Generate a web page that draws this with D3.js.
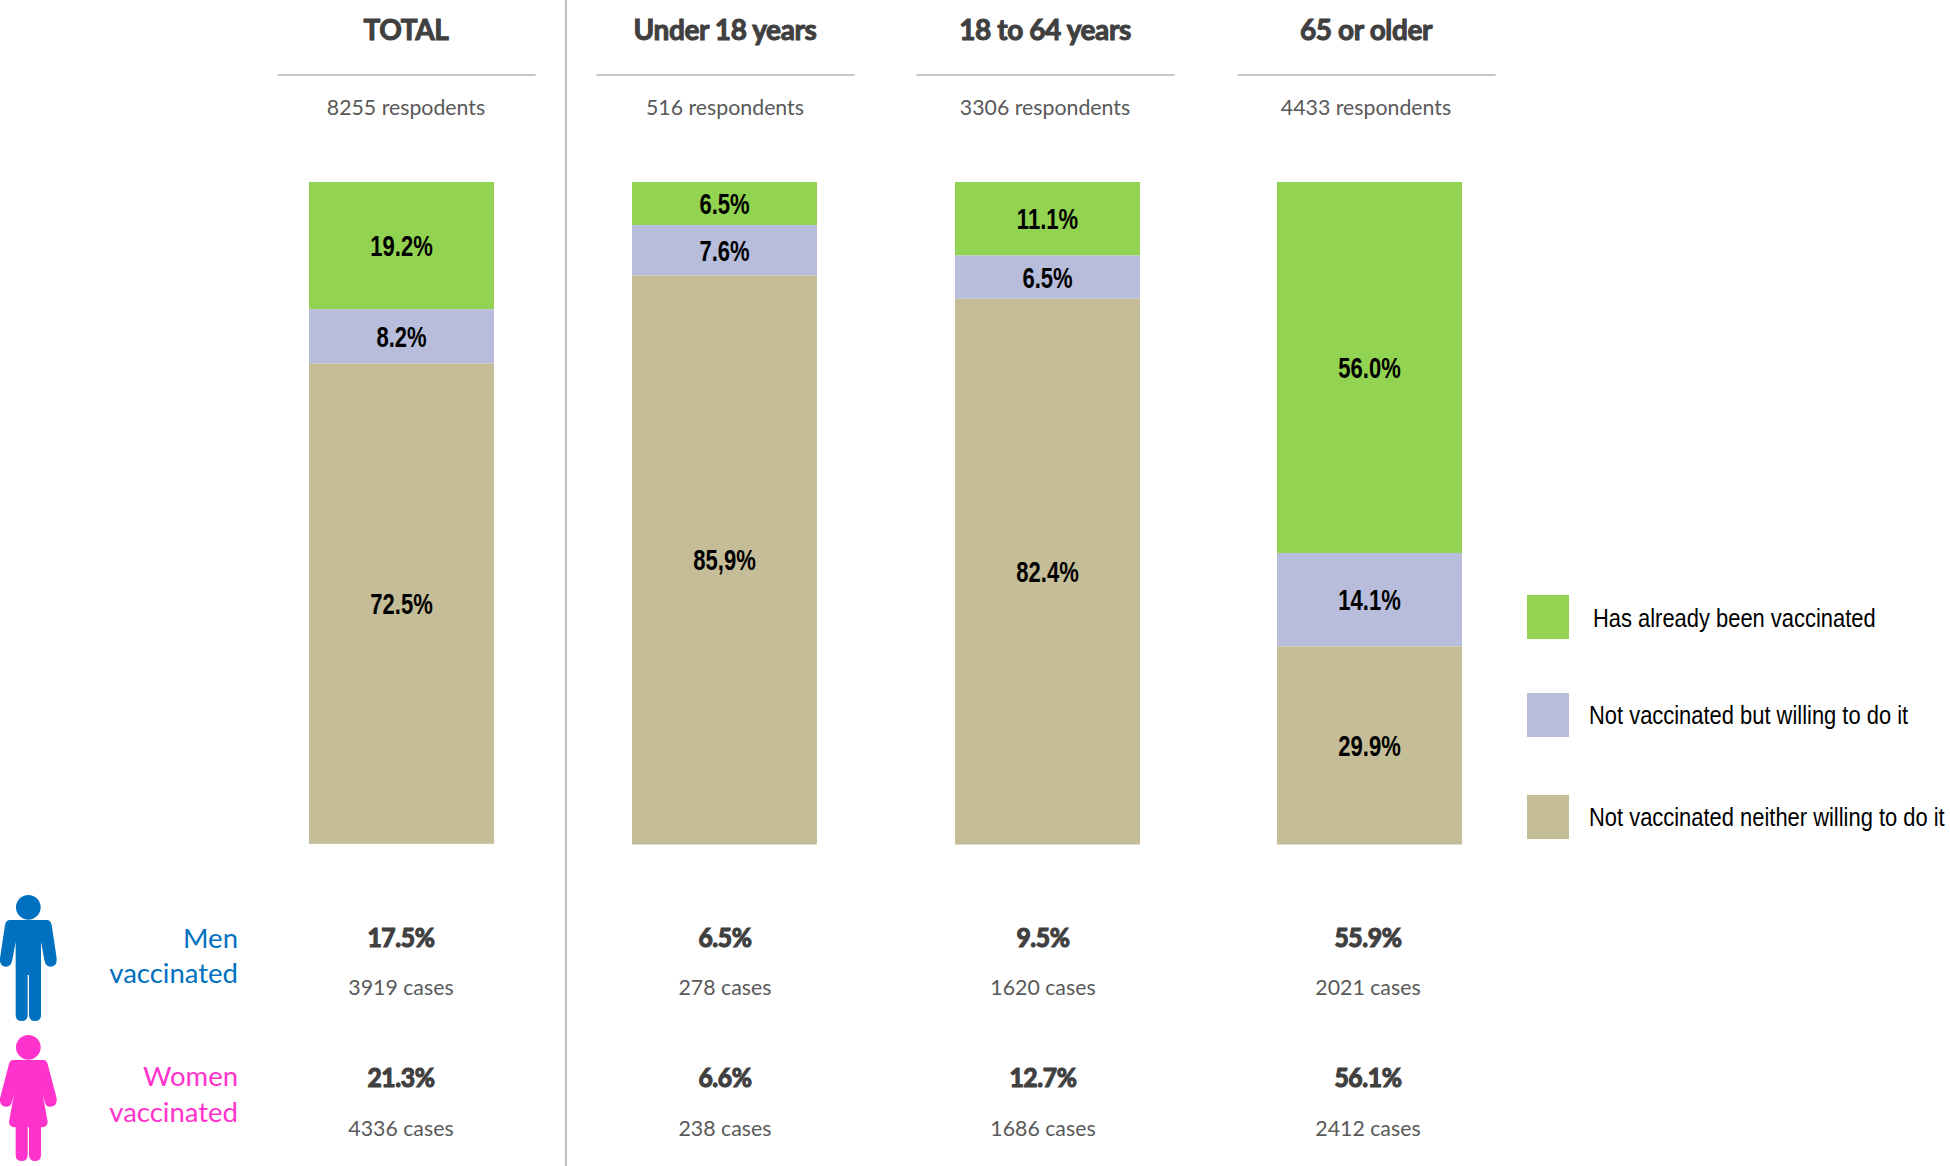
<!DOCTYPE html>
<html><head><meta charset="utf-8">
<script src="https://cdn.jsdelivr.net/npm/d3@7"></script>
<style>
html,body{margin:0;padding:0;background:#fff}
svg{display:block}
.head{font:700 28px Lato,sans-serif;fill:#404040;stroke:#404040;stroke-width:1px;text-anchor:middle;letter-spacing:-.4px}
.sub{font:400 21.3px Lato,sans-serif;fill:#595959;text-anchor:middle}
.pct{font:700 26px Lato,sans-serif;fill:#404040;stroke:#404040;stroke-width:1.2px;text-anchor:middle;letter-spacing:-.4px}
.bar{font:700 29px "Liberation Sans",sans-serif;fill:#000;text-anchor:middle}
.leg{font:400 25.5px "Liberation Sans",sans-serif;fill:#000}
.side{font:400 27.5px Lato,sans-serif;text-anchor:end}
</style></head><body>
<div id="chart"></div>
<script>
const categories = ["TOTAL","Under 18 years","18 to 64 years","65 or older"];
const respondents = ["8255 respodents","516 respondents","3306 respondents","4433 respondents"];
const seriesNames = ["Has already been vaccinated","Not vaccinated but willing to do it","Not vaccinated neither willing to do it"];
const seriesColors = ["#92D351","#B8BDDB","#C4BD97"];
const vaccinated = [19.2,6.5,11.1,56.0];
const willing = [8.2,7.6,6.5,14.1];
const unwilling = [72.5,85.9,82.4,29.9];
const unwillingLabels = ["72.5%","85,9%","82.4%","29.9%"];
const menPct = ["17.5%","6.5%","9.5%","55.9%"];
const menCases = ["3919 cases","278 cases","1620 cases","2021 cases"];
const womenPct = ["21.3%","6.6%","12.7%","56.1%"];
const womenCases = ["4336 cases","238 cases","1686 cases","2412 cases"];

const W=1950,H=1166;
const svg=d3.select("#chart").append("svg").attr("width",W).attr("height",H);

// text squeezed horizontally (the reference uses narrow faces that are not installed)
function narrow(cls,px,py,f,str){
  return svg.append("text").attr("class",cls).attr("transform",`translate(${px},${py}) scale(${f},1)`).text(str);
}

const x=d3.scaleOrdinal().domain(categories).range([309,632,955,1277]);
const barW=185;
const y=d3.scaleLinear().domain([0,100]).range([182,844.5]);
const headX=d3.scaleOrdinal().domain(categories).range([406,725,1045,1366]);
const rowX=d3.scaleOrdinal().domain(categories).range([401,725,1043,1368]);

svg.append("line").attr("x1",566).attr("x2",566).attr("y1",0).attr("y2",H).attr("stroke","#BFBFBF").attr("stroke-width",2);

categories.forEach((c,i)=>{
  svg.append("text").attr("class","head").attr("x",headX(c)).attr("y",39.5).text(c);
  svg.append("line").attr("x1",headX(c)-128.5).attr("x2",headX(c)+129.5).attr("y1",75).attr("y2",75).attr("stroke","#C8C8C8").attr("stroke-width",2);
  svg.append("text").attr("class","sub").attr("x",headX(c)).attr("y",115).text(respondents[i]);
  const vals=[vaccinated[i],willing[i],unwilling[i]];
  const labels=[vaccinated[i].toFixed(1)+"%",willing[i].toFixed(1)+"%",unwillingLabels[i]];
  let cum=0;
  vals.forEach((v,k)=>{
    const y0=y(cum),y1=y(cum+v);
    svg.append("rect").attr("x",x(c)).attr("y",y0).attr("width",barW).attr("height",y1-y0).attr("fill",seriesColors[k]);
    narrow("bar",x(c)+barW/2,(y0+y1)/2+10.5,.76,labels[k]);
    cum+=v;
  });
  narrow("pct",rowX(c),947,.95,menPct[i]);
  svg.append("text").attr("class","sub").attr("x",rowX(c)).attr("y",995).text(menCases[i]);
  narrow("pct",rowX(c),1087,.95,womenPct[i]);
  svg.append("text").attr("class","sub").attr("x",rowX(c)).attr("y",1136).text(womenCases[i]);
});

// legend
const legY=[595,693,795], legT=[1593,1589,1589], legB=[627,724,826];
seriesNames.forEach((n,k)=>{
  svg.append("rect").attr("x",1527).attr("y",legY[k]).attr("width",42).attr("height",44).attr("fill",seriesColors[k]);
  narrow("leg",legT[k],legB[k],.86,n);
});

// side labels
[["Men",948,"#0070C0"],["vaccinated",983,"#0070C0"],["Women",1086,"#FF33CC"],["vaccinated",1122,"#FF33CC"]].forEach(d=>{
  svg.append("text").attr("class","side").attr("x",238).attr("y",d[1]).attr("fill",d[2]).text(d[0]);
});

// figures
const man="M30,120H140Q152,120 155,135L170,235Q172,260 150,260Q137,260 133,240L123,185V405Q123,423 105,423Q88,423 87,405V285H83V405Q83,423 65,423Q47,423 47,405V185L37,240Q33,260 18,260Q-2,260 0,235L15,135Q18,120 30,120Z";
const woman="M40,120H130Q140,120 143,132L170,235Q172,260 150,260Q137,260 134,245L128,222L143,305Q143,322 123,322V405Q123,423 105,423Q88,423 87,405V322H83V405Q83,423 65,423Q47,423 47,405V322Q27,322 27,305L42,222L36,245Q33,260 18,260Q-2,260 0,235L27,132Q30,120 40,120Z";
[[880,man,"#0070C0"],[1020,woman,"#FF33CC"]].forEach(d=>{
  const g=svg.append("g").attr("transform",`translate(0,${d[0]}) scale(${1/3})`).attr("fill",d[2]);
  g.append("circle").attr("cx",85).attr("cy",82).attr("r",37);
  g.append("path").attr("d",d[1]);
});
</script>
</body></html>
